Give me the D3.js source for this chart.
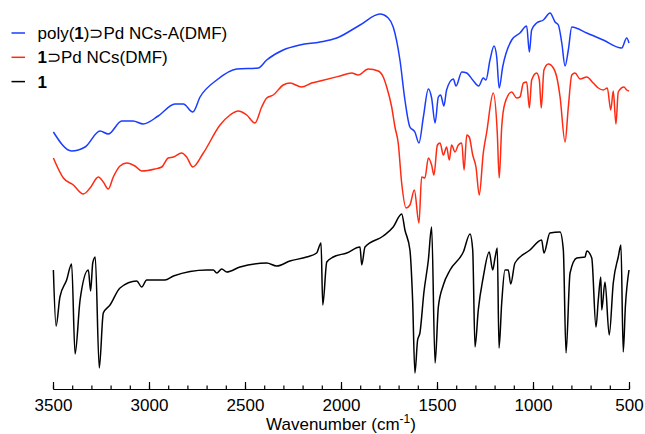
<!DOCTYPE html>
<html lang="en">
<head>
  <meta charset="UTF-8" />
  <title>IR spectra</title>
  <style>
    body { margin: 0; background: #fff; }
    svg text { font-family: "Liberation Sans", Arial, Helvetica, sans-serif; }
  </style>
</head>
<body>
  <div id="chart"></div>

  <script src="https://cdn.jsdelivr.net/npm/d3@7/dist/d3.min.js"></script>
  <script>
  // spectra: wavenumber (cm-1) and transmittance (arbitrary, offset per trace)
  var blueWn = [3498,3403,3333,3255,3212,3142,3083,3030,2952,2865,2821,2772,2734,2647,2543,2431,2387,2301,2214,2109,2022,1901,1797,1754,1728,1693,1667,1641,1615,1594,1571,1545,1528,1510,1493,1481,1464,1450,1415,1401,1371,1345,1314,1283,1259,1245,1224,1203,1189,1176,1158,1111,1068,1033,1019,1007,981,946,911,885,868,850,833,816,798,720,634,538,512,500];
  var blueT  = [250,231,235,251,248,261,261,258,266,278,278,270,285,302,313,314,322,332,337,340,344,357,368,364,355,322,282,255,250,239,265,293,284,259,285,287,276,292,303,296,310,309,302,296,304,302,322,336,325,294,315,342,349,356,330,352,359,362,369,360,357,339,316,332,355,349,342,334,344,339];

  var redWn = [3498,3446,3394,3342,3307,3264,3238,3212,3186,3151,3116,3073,3038,2969,2934,2900,2873,2830,2804,2772,2717,2630,2578,2535,2491,2448,2413,2387,2353,2301,2266,2205,2153,2109,2005,1944,1910,1858,1806,1780,1762,1736,1719,1702,1684,1661,1641,1618,1594,1580,1563,1545,1528,1516,1498,1484,1467,1450,1436,1424,1406,1389,1371,1359,1345,1332,1314,1297,1280,1259,1241,1207,1186,1176,1163,1146,1111,1085,1068,1050,1033,1019,1007,981,967,957,943,920,894,873,859,833,816,798,781,755,720,686,660,634,613,595,582,568,556,526,512,500];
  var redT  = [224,204,197,188,194,205,200,193,205,216,219,216,211,213,215,224,225,229,225,215,229,257,267,271,267,259,275,284,287,297,299,295,299,301,306,309,307,313,311,305,295,275,255,239,199,174,177,192,159,205,204,224,217,207,237,239,227,235,222,237,230,237,239,212,247,245,227,215,187,229,250,289,249,204,255,279,290,284,285,299,300,274,302,309,302,274,312,318,314,302,285,240,275,307,309,303,305,299,294,292,294,272,291,258,290,295,292,291];

  var blackWn = [3498,3484,3464,3429,3403,3385,3359,3316,3304,3293,3280,3259,3238,3203,3151,3064,3038,3012,2917,2873,2699,2665,2647,2621,2595,2526,2387,2335,2266,2179,2127,2104,2095,2074,2040,1970,1901,1892,1875,1780,1728,1684,1667,1641,1627,1615,1601,1589,1568,1545,1528,1510,1493,1467,1432,1363,1328,1314,1302,1285,1259,1228,1210,1198,1186,1177,1163,1146,1129,1116,1094,1016,955,943,912,859,842,828,807,772,729,720,694,672,660,647,642,625,603,582,556,542,530,519,500];
  var blackT  = [112,56,85,102,118,28,82,112,91,119,125,14,69,77,94,101,95,102,102,106,112,112,109,113,110,115,119,116,121,125,129,139,77,120,125,129,135,117,135,146,155,168,152,132,82,9,42,49,90,122,155,19,75,97,112,130,148,132,35,72,105,130,112,124,134,34,79,112,112,98,119,132,142,129,149,150,132,29,109,124,125,131,124,55,82,105,72,100,47,99,125,137,30,75,112];

  var seriesNames = ["poly(1)\u2283Pd NCs-A(DMF)", "1\u2283Pd NCs(DMF)", "1"];
  var seriesColors = ["#1a3cff", "#ff2a12", "#000000"];
  var majorTicks = [3500,3000,2500,2000,1500,1000,500];

  var width = 645, height = 434;
  var axisY = 389;

  var svg = d3.select("#chart")
    .append("svg")
    .attr("width", width)
    .attr("height", height);

  var xScale = d3.scaleLinear()
    .domain([3500, 500])
    .range([53, 629]);

  var yScale = d3.scaleLinear()
    .domain([0, 382])
    .range([382, 0]);

  var line = d3.line()
    .x(function(d){ return xScale(d[0]); })
    .y(function(d){ return yScale(d[1]); })
    .curve(d3.curveMonotoneX);

  var traces = [
    d3.zip(blueWn, blueT),
    d3.zip(redWn, redT),
    d3.zip(blackWn, blackT)
  ];

  // draw black first so coloured traces sit on top
  [2,1,0].forEach(function(i){
    svg.append("path")
      .datum(traces[i])
      .attr("d", line)
      .attr("fill", "none")
      .attr("stroke", seriesColors[i])
      .attr("stroke-width", 1.5)
      .attr("stroke-linejoin", "round");
  });

  // minor ticks every 100
  var minorAxis = d3.axisBottom(xScale)
    .tickValues(d3.range(3500, 499, -100))
    .tickSizeInner(-3.5)
    .tickSizeOuter(0)
    .tickFormat("");
  svg.append("g")
    .attr("transform", "translate(0," + axisY + ")")
    .call(minorAxis);

  var xAxis = d3.axisBottom(xScale)
    .tickValues(majorTicks)
    .tickSizeInner(-7)
    .tickSizeOuter(0)
    .tickPadding(9.5)
    .tickFormat(d3.format("d"));
  var gx = svg.append("g")
    .attr("class", "x-axis")
    .attr("transform", "translate(0," + axisY + ")")
    .call(xAxis);
  gx.selectAll("text")
    .attr("font-size", "17px")
    .attr("font-family", "'Liberation Sans', Arial, sans-serif")
    .attr("fill", "#000");
  svg.selectAll(".domain, .tick line")
    .attr("stroke", "#000")
    .attr("stroke-width", 1.2);

  // axis title
  var title = svg.append("text")
    .attr("x", 341)
    .attr("y", 430)
    .attr("text-anchor", "middle")
    .attr("font-size", "17px")
    .text("Wavenumber (cm");
  title.append("tspan")
    .attr("font-size", "12px")
    .attr("dy", -7)
    .text("-1");
  title.append("tspan")
    .attr("dy", 7)
    .text(")");

  // legend
  var legend = svg.append("g");
  seriesNames.forEach(function(name, i){
    var ly = 33 + i * 24.3;
    legend.append("line")
      .attr("x1", 11.5).attr("x2", 25)
      .attr("y1", ly).attr("y2", ly)
      .attr("stroke", seriesColors[i])
      .attr("stroke-width", 1.5);
    var t = legend.append("text")
      .attr("x", 37.5)
      .attr("y", ly + 6)
      .attr("font-size", "17px");
    // the compound number "1" is set in bold
    var parts = name.split("1");
    parts.forEach(function(p, j){
      if (p.length) t.append("tspan").text(p);
      if (j < parts.length - 1) t.append("tspan").attr("font-weight", "bold").text("1");
    });
  });
  </script>
</body>
</html>
